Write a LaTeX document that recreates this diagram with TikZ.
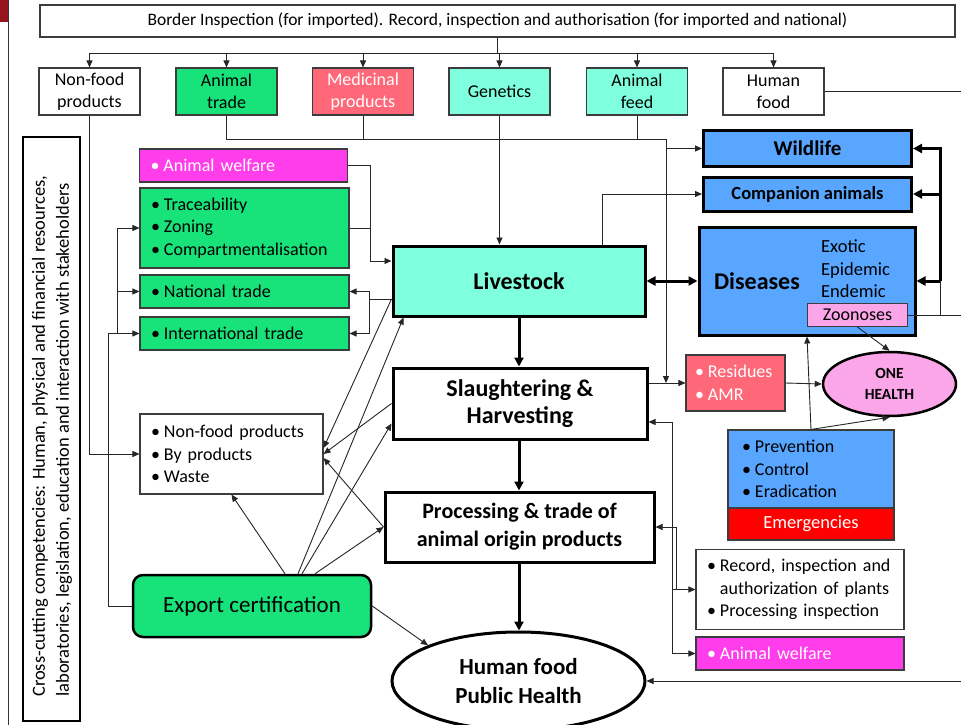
\documentclass[tikz,border=0pt]{standalone}
\usepackage{fontspec}
\setmainfont{Carlito}
\usetikzlibrary{arrows.meta,shapes.geometric,calc}

\definecolor{mint}{RGB}{127,255,222}
\definecolor{leaf}{RGB}{24,226,122}
\definecolor{coral}{RGB}{255,104,120}
\definecolor{fuchsia}{RGB}{255,61,235}
\definecolor{sky}{RGB}{88,166,255}
\definecolor{blush}{RGB}{250,166,232}
\definecolor{edgegrey}{RGB}{60,60,60}
\definecolor{slidered}{RGB}{150,20,30}

\newcommand{\fsz}[2]{\fontsize{#1}{#2}\selectfont}
\newcommand{\bul}{\mbox{\textbullet}\nobreak\kern4pt}
\newcommand{\nobul}{\hphantom{\textbullet}\kern4pt}

\tikzset{
  box/.style={draw=edgegrey, line width=1.1pt, inner sep=0pt, align=center},
  heavy/.style={draw=black, line width=3pt, inner sep=0pt, align=center},
  rowbox/.style={box, minimum width=101pt, minimum height=47pt, font=\fsz{18}{22}},
  listbox/.style={box, align=left, inner xsep=11pt, inner ysep=0pt, font=\fsz{18}{22.7}},
  arr/.style={draw=black!85, line width=0.9pt, -{Triangle[length=7pt,width=6pt]}},
  link/.style={draw=black!85, line width=0.9pt},
  harr/.style={draw=black, line width=3pt, -{Triangle[length=9pt,width=9pt]}},
  hboth/.style={draw=black, line width=3pt, {Triangle[length=9pt,width=9pt]}-{Triangle[length=9pt,width=9pt]}},
}

\begin{document}
\begin{tikzpicture}[x=1pt,y=-1pt]
\useasboundingbox (0,0) rectangle (961,725);
\fill[white] (0,0) rectangle (961,725);

% slide edge
\fill[slidered] (0,0) rectangle (8,22);
\draw[line width=1pt, black!80] (8,0) -- (8,725);

% ---- top inspection box and first row -----------------------------------
\node[box, minimum width=915pt, minimum height=32pt, font=\fsz{17.5}{20}] (border) at (497.5,21)
  {Border Inspection (for imported). Record, inspection and authorisation (for imported and national)};

\node[rowbox] (nonfood) at (89.5,91.5) {Non-food\\products};
\node[rowbox, fill=leaf] (atrade) at (226.5,91.5) {Animal\\trade};
\node[rowbox, fill=coral, text=white] (medic) at (363,91.5) {Medicinal\\products};
\node[rowbox, fill=mint] (genet) at (499.5,91.5) {Genetics};
\node[rowbox, fill=mint] (feed) at (637,91.5) {Animal\\feed};
\node[rowbox] (hfood) at (773.5,91.5) {Human\\food};

\foreach \n in {nonfood,atrade,medic,genet,feed,hfood}
  \draw[arr] (border.south) -- ++(0,16) -| (\n.north);

% ---- central chain --------------------------------------------------------
\node[heavy, fill=mint, minimum width=252pt, minimum height=70pt, font=\bfseries\fsz{24}{28}] (livestock) at (519,281) {Livestock};
\node[heavy, fill=white, minimum width=254pt, minimum height=71pt, font=\bfseries\fsz{24}{27}] (slaughter) at (520,403.5) {Slaughtering \&\\Harvesting};
\node[heavy, fill=white, minimum width=269pt, minimum height=70pt, font=\bfseries\fsz{22}{28}] (processing) at (519.5,527) {Processing \& trade of\\animal origin products};
\node[ellipse, heavy, fill=white, minimum width=253pt, minimum height=98pt, font=\bfseries\fsz{23}{29}] (hph) at (518.5,681) {Human food\\Public Health};

\draw[harr] (livestock.south -| 519,0) -- (slaughter.north -| 519,0);
\draw[harr] (slaughter.south -| 519,0) -- (processing.north -| 519,0);
\draw[harr] (processing.south -| 519,0) -- (hph.north -| 519,0);

% ---- animal populations and diseases --------------------------------------
\node[heavy, fill=sky, minimum width=208pt, minimum height=36pt, font=\bfseries\fsz{21}{24}] (wild) at (807.5,148.5) {Wildlife};
\node[heavy, fill=sky, minimum width=208pt, minimum height=34pt, font=\bfseries\fsz{18.5}{21}] (comp) at (807.5,194) {Companion animals};
\node[heavy, fill=sky, minimum width=216pt, minimum height=108pt] (dis) at (807,281) {};
\node[font=\bfseries\fsz{24}{28}, inner sep=0pt] (distitle) at (757,281) {Diseases};
\node[font=\fsz{18.5}{22.5}, align=left, anchor=west, inner sep=0pt] (dislist) at (821,269) {Exotic\\Epidemic\\Endemic};
\node[box, fill=blush, minimum width=100pt, minimum height=23pt, font=\fsz{18}{20}] (zoon) at (857.5,315) {Zoonoses};
\node[ellipse, draw=black, line width=2.5pt, inner sep=0pt, fill=blush, minimum width=133pt, minimum height=64pt, align=center, font=\bfseries\fsz{15.5}{21}] (onehealth) at (889.5,384) {ONE\\HEALTH};

\node[listbox, fill=coral, text=white, text width=81pt, inner xsep=9pt, minimum height=56pt] (resid) at (735.5,383) {\bul Residues\\\bul AMR};
\node[listbox, fill=sky, text width=138pt, inner xsep=14pt, minimum height=78pt] (prev) at (811,469) {\bul Prevention\\\bul Control\\\bul Eradication};
\node[box, fill=red, text=white, minimum width=166pt, minimum height=32pt, font=\fsz{18.5}{22}] (emerg) at (811,524) {Emergencies};
\node[listbox, fill=white, text width=186pt, minimum height=80pt] (record) at (800,589.5) {\bul Record, inspection and\\\nobul authorization of plants\\\bul Processing inspection};
\node[listbox, fill=fuchsia, text=white, text width=186pt, minimum height=33pt] (welfareB) at (800,653.5) {\bul Animal welfare};

% ---- left-hand boxes ------------------------------------------------------
\node[box, draw=black, line width=2pt, minimum width=57pt, minimum height=584pt] (cross) at (51.5,429) {};
\node[rotate=90, anchor=west, align=left, inner sep=0pt, font=\fsz{18.5}{24}] (crosstext) at (52,697)
  {Cross-cutting competencies: Human, physical and financial resources,\\laboratories, legislation, education and interaction with stakeholders};

\node[listbox, fill=fuchsia, text=white, text width=186pt, minimum height=33pt] (welfareA) at (243.5,165.5) {\bul Animal welfare};
\node[listbox, fill=leaf, text width=187pt, minimum height=80pt] (trace) at (244.5,228) {\bul Traceability\\\bul Zoning\\\bul Compartmentalisation};
\node[listbox, fill=leaf, text width=187pt, minimum height=33pt] (natl) at (244.5,291.5) {\bul National trade};
\node[listbox, fill=leaf, text width=187pt, minimum height=33pt] (intl) at (244.5,333.5) {\bul International trade};
\node[listbox, fill=white, text width=161pt, minimum height=80pt] (waste) at (231.5,454) {\bul Non-food products\\\bul By products\\\bul Waste};
\node[draw=black, line width=2.5pt, rounded corners=10pt, fill=leaf, minimum width=238pt, minimum height=62pt, inner sep=0pt, font=\fsz{23}{26}] (export) at (252,606) {Export certification};

% ---- junction points ------------------------------------------------------
\coordinate (fj) at (666,139);
\coordinate (lj) at (370,261);
\coordinate (tj) at (369,299);
\coordinate (ex) at (108,333.5);
\coordinate (eb) at (117,333.5);
\coordinate (zb) at (940,315);
\coordinate (zedge) at (961,315);
\coordinate (hedge) at (961,91.5);
\coordinate (bedge) at (961,681);
\coordinate (sr) at (672,422);
\coordinate (rw) at (672,653.5);
\coordinate (pr) at (676,527);

% ---- connectors from the first row ----------------------------------------
\draw[arr] (nonfood.south) |- (waste.west);
\draw[link] (atrade.south) |- (fj);
\draw[link] (medic.south) -- (medic.south |- fj);
\draw[link] (feed.south) -- (feed.south |- fj);
\draw[arr] (fj) |- (wild.west);
\draw[arr] (fj) -- (fj |- resid.west);
\draw[arr] (genet.south) -- (genet.south |- livestock.north);
\draw[link] (hfood.east) -- (hedge);

% ---- livestock, diseases and one health -----------------------------------
\draw[arr] ([xshift=83pt]livestock.north) |- (comp.west);
\draw[hboth] (livestock.east) -- (dis.west);
\draw[link] (zoon.east) -- (zedge);
\draw[link] (zb) -- (zb |- dis.east);
\draw[harr] (zb |- dis.east) |- (wild.east);
\draw[harr] (zb |- dis.east) |- (comp.east);
\draw[harr] (zb |- dis.east) -- (dis.east);
\draw[arr] (zoon.south) -- (onehealth.north);
\draw[arr] (slaughter.east |- resid.west) -- (resid.west);
\draw[arr] (resid.east) -- (onehealth.west);
\draw[arr] (prev.north) -- (dis.south);
\draw[arr] (prev.north) -- (onehealth.south);

% ---- plant inspection and welfare returns ---------------------------------
\draw[link] (sr) -- (rw);
\draw[arr] (sr) -- (sr -| slaughter.east);
\draw[arr] (sr |- record.west) -- (record.west);
\draw[arr] (rw) -- (welfareB.west);
\draw[link] (pr) -- (pr |- record.west);
\draw[arr] (pr) -- (pr -| processing.east);
\draw[arr] (bedge) -- (hph.east);

% ---- left-hand connectors -------------------------------------------------
\draw[link] (welfareA.east) -| (lj);
\draw[link] (trace.east) -- (trace.east -| lj);
\draw[arr] (lj) -- (lj -| livestock.west);
\draw[link] (tj -| livestock.west) -- (tj);
\draw[arr] (tj) |- (natl.east);
\draw[arr] (tj) |- (intl.east);

\draw[link] (export.west) -| (ex) -- (eb);
\draw[arr] (eb) -- (intl.west);
\draw[arr] (eb) |- (natl.west);
\draw[arr] (eb) |- (trace.west);

\draw[arr] (tj -| livestock.west) -- ([yshift=6pt]waste.east);
\draw[arr] (slaughter.west) -- (waste.east);
\draw[arr] (processing.west) -- ([yshift=-4pt]waste.east);
\draw[arr] ([xshift=33pt]export.north) -- (waste.south);
\draw[arr] ([xshift=46pt]export.north) -- ([xshift=12pt]livestock.south west);
\draw[arr] ([xshift=50pt]export.north) -- ([yshift=-20pt]slaughter.west);
\draw[arr] ([xshift=63pt]export.north) -- (processing.west);
\draw[arr] (export.east) -- (hph.north west);
\end{tikzpicture}
\end{document}
